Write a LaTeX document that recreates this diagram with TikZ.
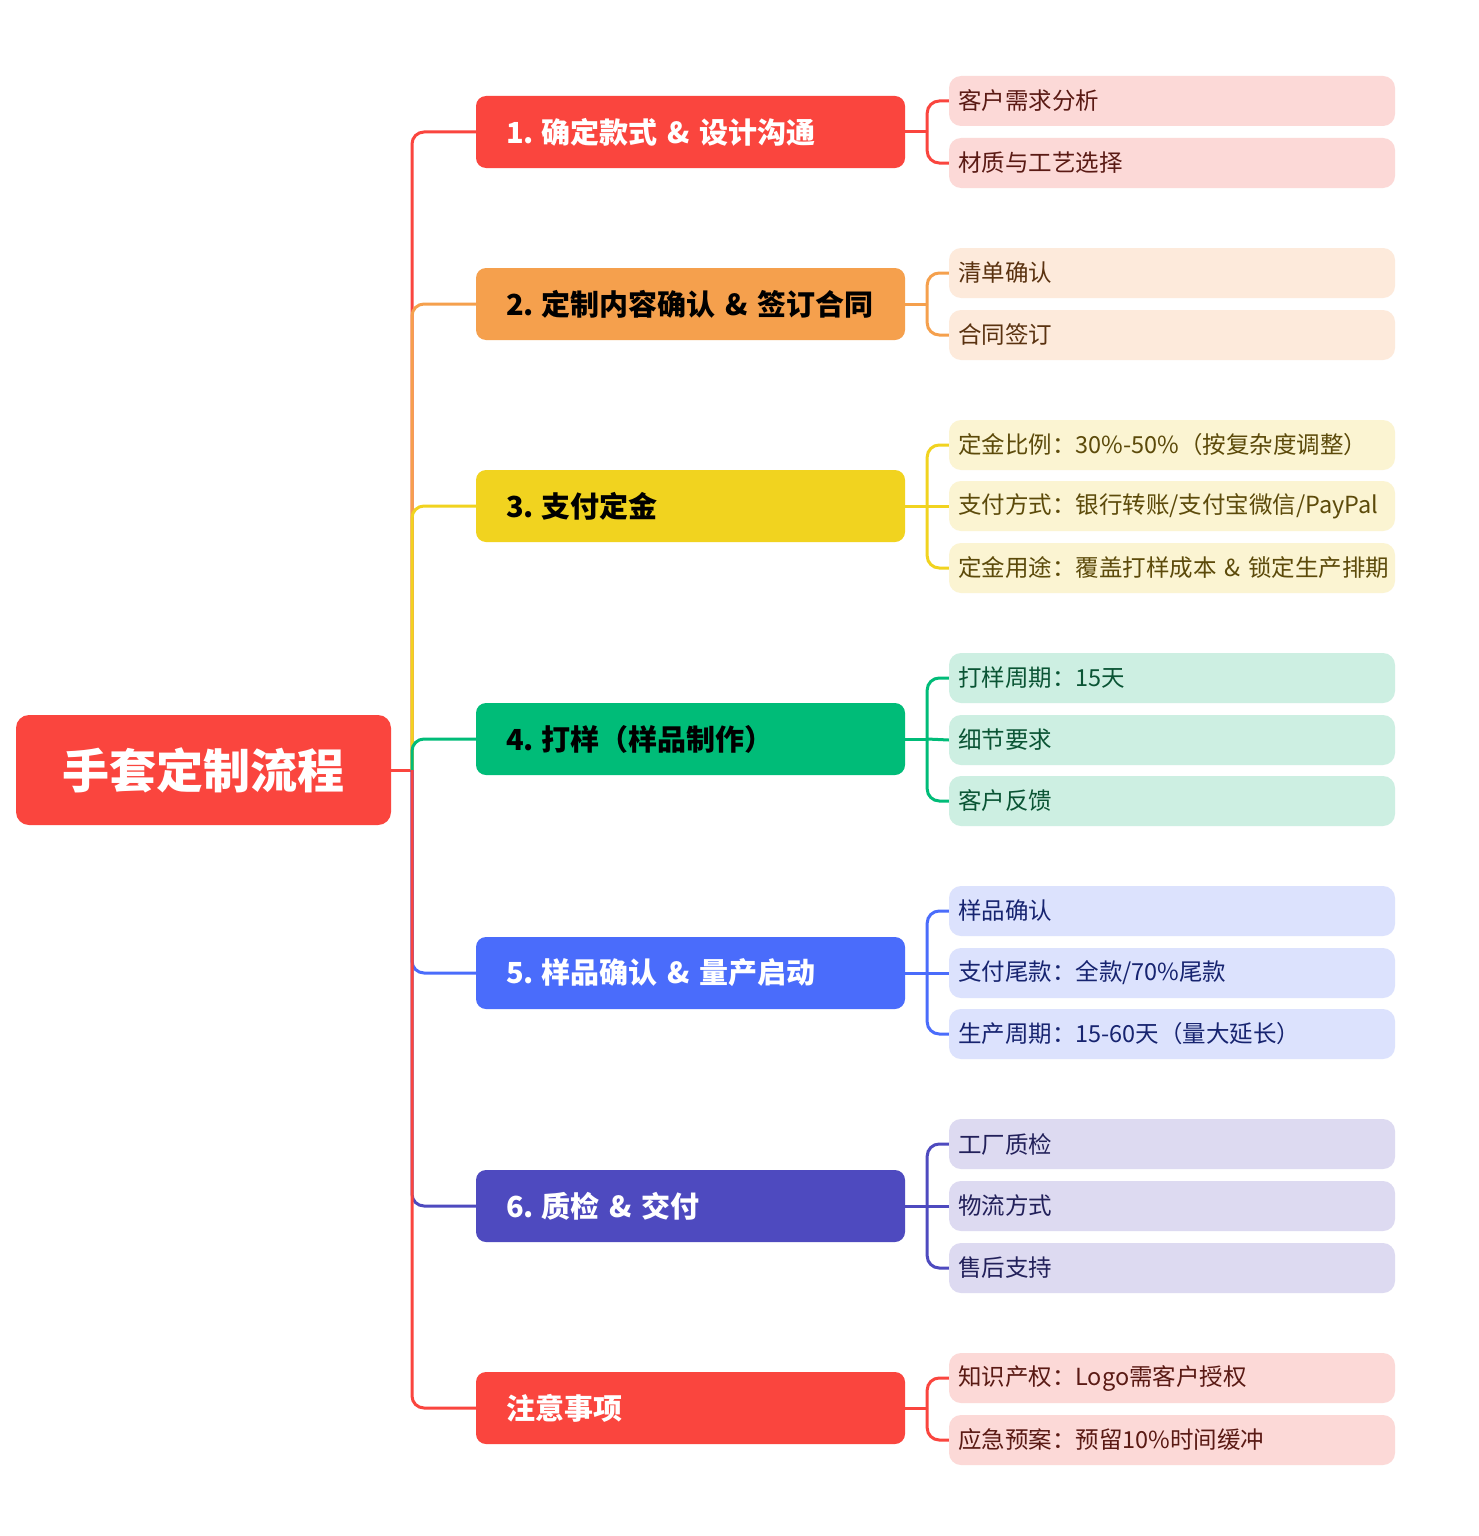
\documentclass[tikz,border=0pt]{standalone}
\usepackage{fontspec}
\setmainfont{Noto Sans CJK SC}
\definecolor{cA}{HTML}{FA453E}
\definecolor{cB}{HTML}{F5A04D}
\definecolor{cC}{HTML}{F1D31F}
\definecolor{cD}{HTML}{00BC78}
\definecolor{cE}{HTML}{4A6CFB}
\definecolor{cF}{HTML}{4E4ABF}
\definecolor{fA}{HTML}{FCD9D7}
\definecolor{fB}{HTML}{FDEADB}
\definecolor{fC}{HTML}{FBF4D2}
\definecolor{fD}{HTML}{CDEFE2}
\definecolor{fE}{HTML}{DCE2FD}
\definecolor{fF}{HTML}{DDDAF1}
\definecolor{tA}{HTML}{5A1A14}
\definecolor{tB}{HTML}{5A3210}
\definecolor{tC}{HTML}{5C4A0A}
\definecolor{tD}{HTML}{0A5434}
\definecolor{tE}{HTML}{172470}
\definecolor{tF}{HTML}{22205A}
\newcommand{\nsp}{\hspace{0.28em}}
\tikzset{
  rootbox/.style={fill=cA, rounded corners=13pt, minimum width=375pt, minimum height=110pt, inner sep=0pt, text=white, font=\bfseries\fontsize{47}{53}\selectfont},
  branchbox/.style={rounded corners=10pt, minimum height=72pt, inner xsep=30pt, inner ysep=0pt, text width=369pt, align=left, font=\bfseries\fontsize{29}{35}\selectfont},
  leafbox/.style={rounded corners=12pt, minimum height=50pt, inner xsep=9pt, inner ysep=0pt, text width=428pt, align=left, font=\fontsize{23.5}{28}\selectfont},
  link/.style={line width=3pt, rounded corners=12pt},
  stub/.style={line width=3pt}
}
\begin{document}
\begin{tikzpicture}[x=1pt,y=-1pt]
\fill[white] (0,0) rectangle (1479,1536);
\useasboundingbox (0,0) rectangle (1479,1536);

% root
\node[rootbox] (root) at (203.5,770) {手套定制流程};
\coordinate (t) at (412,770);

% branches
\node[branchbox, fill=cA, text=white] (b1) at (690.5,132) {\mbox{1.\nsp 确定款式 \& 设计沟通}};
\node[branchbox, fill=cB, text=black] (b2) at (690.5,304) {\mbox{2.\nsp 定制内容确认 \& 签订合同}};
\node[branchbox, fill=cC, text=black] (b3) at (690.5,506) {\mbox{3.\nsp 支付定金}};
\node[branchbox, fill=cD, text=black] (b4) at (690.5,739) {\mbox{4.\nsp 打样（样品制作）}};
\node[branchbox, fill=cE, text=white] (b5) at (690.5,973) {\mbox{5.\nsp 样品确认 \& 量产启动}};
\node[branchbox, fill=cF, text=white] (b6) at (690.5,1206) {\mbox{6.\nsp 质检 \& 交付}};
\node[branchbox, fill=cA, text=white] (b7) at (690.5,1408) {\mbox{注意事项}};

% leaves
\node[leafbox, fill=fA, text=tA] (l11) at (1172,101) {\mbox{客户需求分析}};
\node[leafbox, fill=fA, text=tA] (l12) at (1172,163) {\mbox{材质与工艺选择}};
\node[leafbox, fill=fB, text=tB] (l21) at (1172,273) {\mbox{清单确认}};
\node[leafbox, fill=fB, text=tB] (l22) at (1172,335) {\mbox{合同签订}};
\node[leafbox, fill=fC, text=tC] (l31) at (1172,445) {\mbox{定金比例：30\%-50\%（按复杂度调整）}};
\node[leafbox, fill=fC, text=tC] (l32) at (1172,506) {\mbox{支付方式：银行转账/支付宝微信/PayPal}};
\node[leafbox, fill=fC, text=tC] (l33) at (1172,568) {\mbox{定金用途：覆盖打样成本 \& 锁定生产排期}};
\node[leafbox, fill=fD, text=tD] (l41) at (1172,678) {\mbox{打样周期：15天}};
\node[leafbox, fill=fD, text=tD] (l42) at (1172,740) {\mbox{细节要求}};
\node[leafbox, fill=fD, text=tD] (l43) at (1172,801) {\mbox{客户反馈}};
\node[leafbox, fill=fE, text=tE] (l51) at (1172,911) {\mbox{样品确认}};
\node[leafbox, fill=fE, text=tE] (l52) at (1172,973) {\mbox{支付尾款：全款/70\%尾款}};
\node[leafbox, fill=fE, text=tE] (l53) at (1172,1034) {\mbox{生产周期：15-60天（量大延长）}};
\node[leafbox, fill=fF, text=tF] (l61) at (1172,1144) {\mbox{工厂质检}};
\node[leafbox, fill=fF, text=tF] (l62) at (1172,1206) {\mbox{物流方式}};
\node[leafbox, fill=fF, text=tF] (l63) at (1172,1268) {\mbox{售后支持}};
\node[leafbox, fill=fA, text=tA] (l71) at (1172,1378) {\mbox{知识产权：Logo需客户授权}};
\node[leafbox, fill=fA, text=tA] (l72) at (1172,1440) {\mbox{应急预案：预留10\%时间缓冲}};

% trunk connectors
\draw[stub, draw=cA] (root.east) -- (t);
\draw[link, draw=cA] (t) |- (b1.west);
\draw[link, draw=cB] (t) |- (b2.west);
\draw[link, draw=cC] (t) |- (b3.west);
\draw[link, draw=cD] (t) |- (b4.west);
\draw[link, draw=cE] (t) |- (b5.west);
\draw[link, draw=cF] (t) |- (b6.west);
\draw[link, draw=cA] (t) |- (b7.west);

% leaf junctions
\coordinate (j1) at ([xshift=22pt]b1.east);
\coordinate (j2) at ([xshift=22pt]b2.east);
\coordinate (j3) at ([xshift=22pt]b3.east);
\coordinate (j4) at ([xshift=22pt]b4.east);
\coordinate (j5) at ([xshift=22pt]b5.east);
\coordinate (j6) at ([xshift=22pt]b6.east);
\coordinate (j7) at ([xshift=22pt]b7.east);

\draw[stub, draw=cA] (b1.east) -- (j1);
\draw[link, draw=cA] (j1) |- (l11.west);
\draw[link, draw=cA] (j1) |- (l12.west);

\draw[stub, draw=cB] (b2.east) -- (j2);
\draw[link, draw=cB] (j2) |- (l21.west);
\draw[link, draw=cB] (j2) |- (l22.west);

\draw[stub, draw=cC] (b3.east) -- (j3);
\draw[link, draw=cC] (j3) |- (l31.west);
\draw[stub, draw=cC] (j3) -- (l32.west);
\draw[link, draw=cC] (j3) |- (l33.west);

\draw[stub, draw=cD] (b4.east) -- (j4);
\draw[link, draw=cD] (j4) |- (l41.west);
\draw[stub, draw=cD] (j4) -- (l42.west);
\draw[link, draw=cD] (j4) |- (l43.west);

\draw[stub, draw=cE] (b5.east) -- (j5);
\draw[link, draw=cE] (j5) |- (l51.west);
\draw[stub, draw=cE] (j5) -- (l52.west);
\draw[link, draw=cE] (j5) |- (l53.west);

\draw[stub, draw=cF] (b6.east) -- (j6);
\draw[link, draw=cF] (j6) |- (l61.west);
\draw[stub, draw=cF] (j6) -- (l62.west);
\draw[link, draw=cF] (j6) |- (l63.west);

\draw[stub, draw=cA] (b7.east) -- (j7);
\draw[link, draw=cA] (j7) |- (l71.west);
\draw[link, draw=cA] (j7) |- (l72.west);
\end{tikzpicture}
\end{document}
